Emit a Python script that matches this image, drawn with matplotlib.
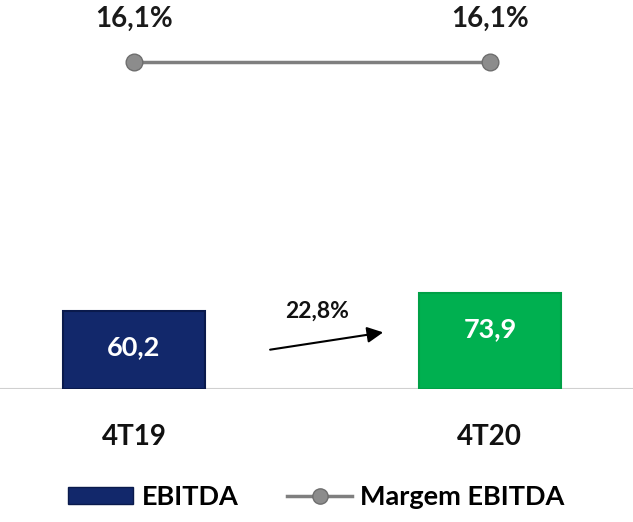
import matplotlib
matplotlib.use("Agg")
import matplotlib.pyplot as plt
from matplotlib.lines import Line2D
from matplotlib.patches import Patch

categories = ["4T19", "4T20"]
ebitda = [60.2, 73.9]
ebitda_labels = ["60,2", "73,9"]
margem = [16.1, 16.1]
margem_labels = ["16,1%", "16,1%"]
growth_label = "22,8%"

bar_colors = ["#12286B", "#00B050"]
edge_colors = ["#0A1A4C", "#00A046"]

plt.rcParams['font.family'] = ['Lato', 'DejaVu Sans']

fig = plt.figure(figsize=(6.33, 5.22), dpi=100)
ax = fig.add_axes([0, 1 - 389 / 522, 1, 389 / 522])
x = [0, 1]
ax.set_xlim(-0.376, 1.402)
ax.set_ylim(0, 300)
bars = ax.bar(x, ebitda, width=0.40, color=bar_colors, edgecolor=edge_colors, linewidth=1.5, zorder=3)
for xi, v, lab in zip(x, ebitda, ebitda_labels):
    ax.text(xi, v - 28, lab, ha='center', va='center', color='white', fontsize=19.5, fontweight='bold', zorder=4)

ax.axhline(0, color='#D0D0D0', linewidth=1.5, zorder=2)
for s in ax.spines.values():
    s.set_visible(False)
ax.set_xticks([])
ax.set_yticks([])

# growth arrow
ax.annotate('', xy=(0.708, 44), xytext=(0.375, 30),
            arrowprops=dict(arrowstyle='-|>', color='black', lw=1.5, mutation_scale=24), zorder=5)
ax.text(0.515, 60, growth_label, ha='center', va='center', fontsize=16.5, fontweight='bold', color='#111111')

# category labels
for xi, c in zip(x, categories):
    ax.text(xi, -37, c, ha='center', va='center', fontsize=20, fontweight='bold', clip_on=False, color='#111111')

ax2 = ax.twinx()
ax2.set_ylim(0, 19.15)
ax2.plot(x, margem, color='#7F7F7F', lw=2.5, marker='o', markersize=12,
         markerfacecolor='#8C8C8C', markeredgecolor='#6E6E6E', zorder=5)
for xi, v, lab in zip(x, margem, margem_labels):
    ax2.text(xi, v + 2.1, lab, ha='center', va='center', fontsize=20, fontweight='bold', color='#1A1A1A')
ax2.set_yticks([])
for s in ax2.spines.values():
    s.set_visible(False)

handles = [Patch(facecolor=bar_colors[0], edgecolor=edge_colors[0]),
           Line2D([0], [0], color='#7F7F7F', lw=2.5, marker='o', markersize=11,
                  markerfacecolor='#8C8C8C', markeredgecolor='#6E6E6E')]
fig.legend(handles, ["EBITDA", "Margem EBITDA"], loc='center', bbox_to_anchor=(0.5, 1 - 497 / 522),
           ncol=2, frameon=False, handlelength=2.4, handleheight=0.6,
           columnspacing=1.8, handletextpad=0.3, prop={'weight': 'bold', 'size': 19.5})

fig.savefig("out.png", dpi=100)
